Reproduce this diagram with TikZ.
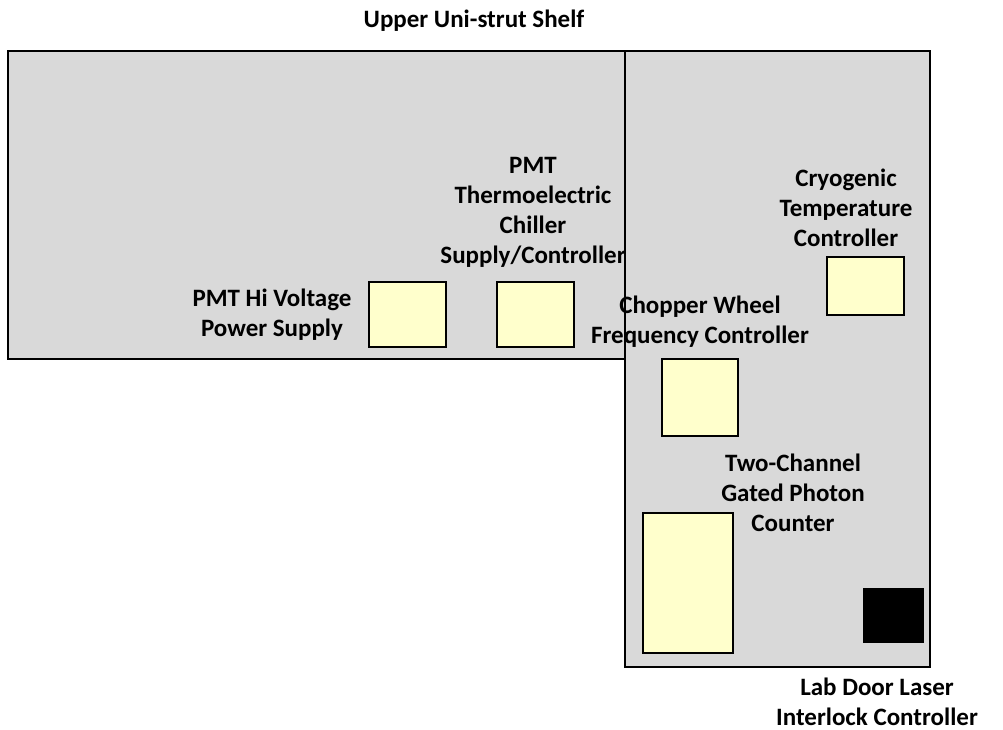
\documentclass[tikz,border=0pt]{standalone}
\usepackage{fontspec}
\setmainfont{Carlito}
\usepackage{tikz}
\definecolor{shelfgray}{HTML}{D9D9D9}
\definecolor{deviceyellow}{HTML}{FFFFCC}

\tikzset{
  shelf/.style={draw=black, fill=shelfgray, line width=1.3pt},
  device/.style={draw=black, fill=deviceyellow, line width=1.5pt, inner sep=0pt},
  devlabel/.style={font=\fontsize{25}{30}\selectfont\bfseries, align=center, inner sep=0pt},
}

\begin{document}
\begin{tikzpicture}[x=1pt, y=-1pt]
      \useasboundingbox (0,0) rectangle (1003,730);

      % Regale
      \draw[shelf] (8,51) rectangle (625,359);
      \draw[shelf] (625,51) rectangle (930,667);
      \node[devlabel] (title) at (474,21) {Upper Uni-strut Shelf};

      % Geraete
      \node[device, minimum width=77, minimum height=65] (hv) at (407.5,314.5) {};
      \node[device, minimum width=77, minimum height=65] (chiller) at (535.5,314.5) {};
      \node[device, minimum width=77, minimum height=58] (cryo) at (865.5,286) {};
      \node[device, minimum width=76, minimum height=77] (chopper) at (700,397.5) {};
      \node[device, minimum width=90, minimum height=140] (counter) at (688,583) {};
      \node[device, fill=black, minimum width=59, minimum height=53] (interlock) at (893.5,615.5) {};

      % Beschriftungen
      \node[devlabel] (hvtext) at (272,314.5) {PMT Hi Voltage\\Power Supply};
      \node[devlabel] (chillertext) at (533,212.5)
        {PMT\\Thermoelectric\\Chiller\\Supply/Controller};
      \node[devlabel] (cryotext) at (846,207.5) {Cryogenic\\Temperature\\Controller};
      \node[devlabel] (choppertext) at (700,322) {Chopper Wheel\\Frequency Controller};
      \node[devlabel] (countertext) at (793,493) {Two-Channel\\Gated Photon\\Counter};
      \node[devlabel] (interlocktext) at (877,702) {Lab Door Laser\\Interlock Controller};
    \end{tikzpicture}
\end{document}
